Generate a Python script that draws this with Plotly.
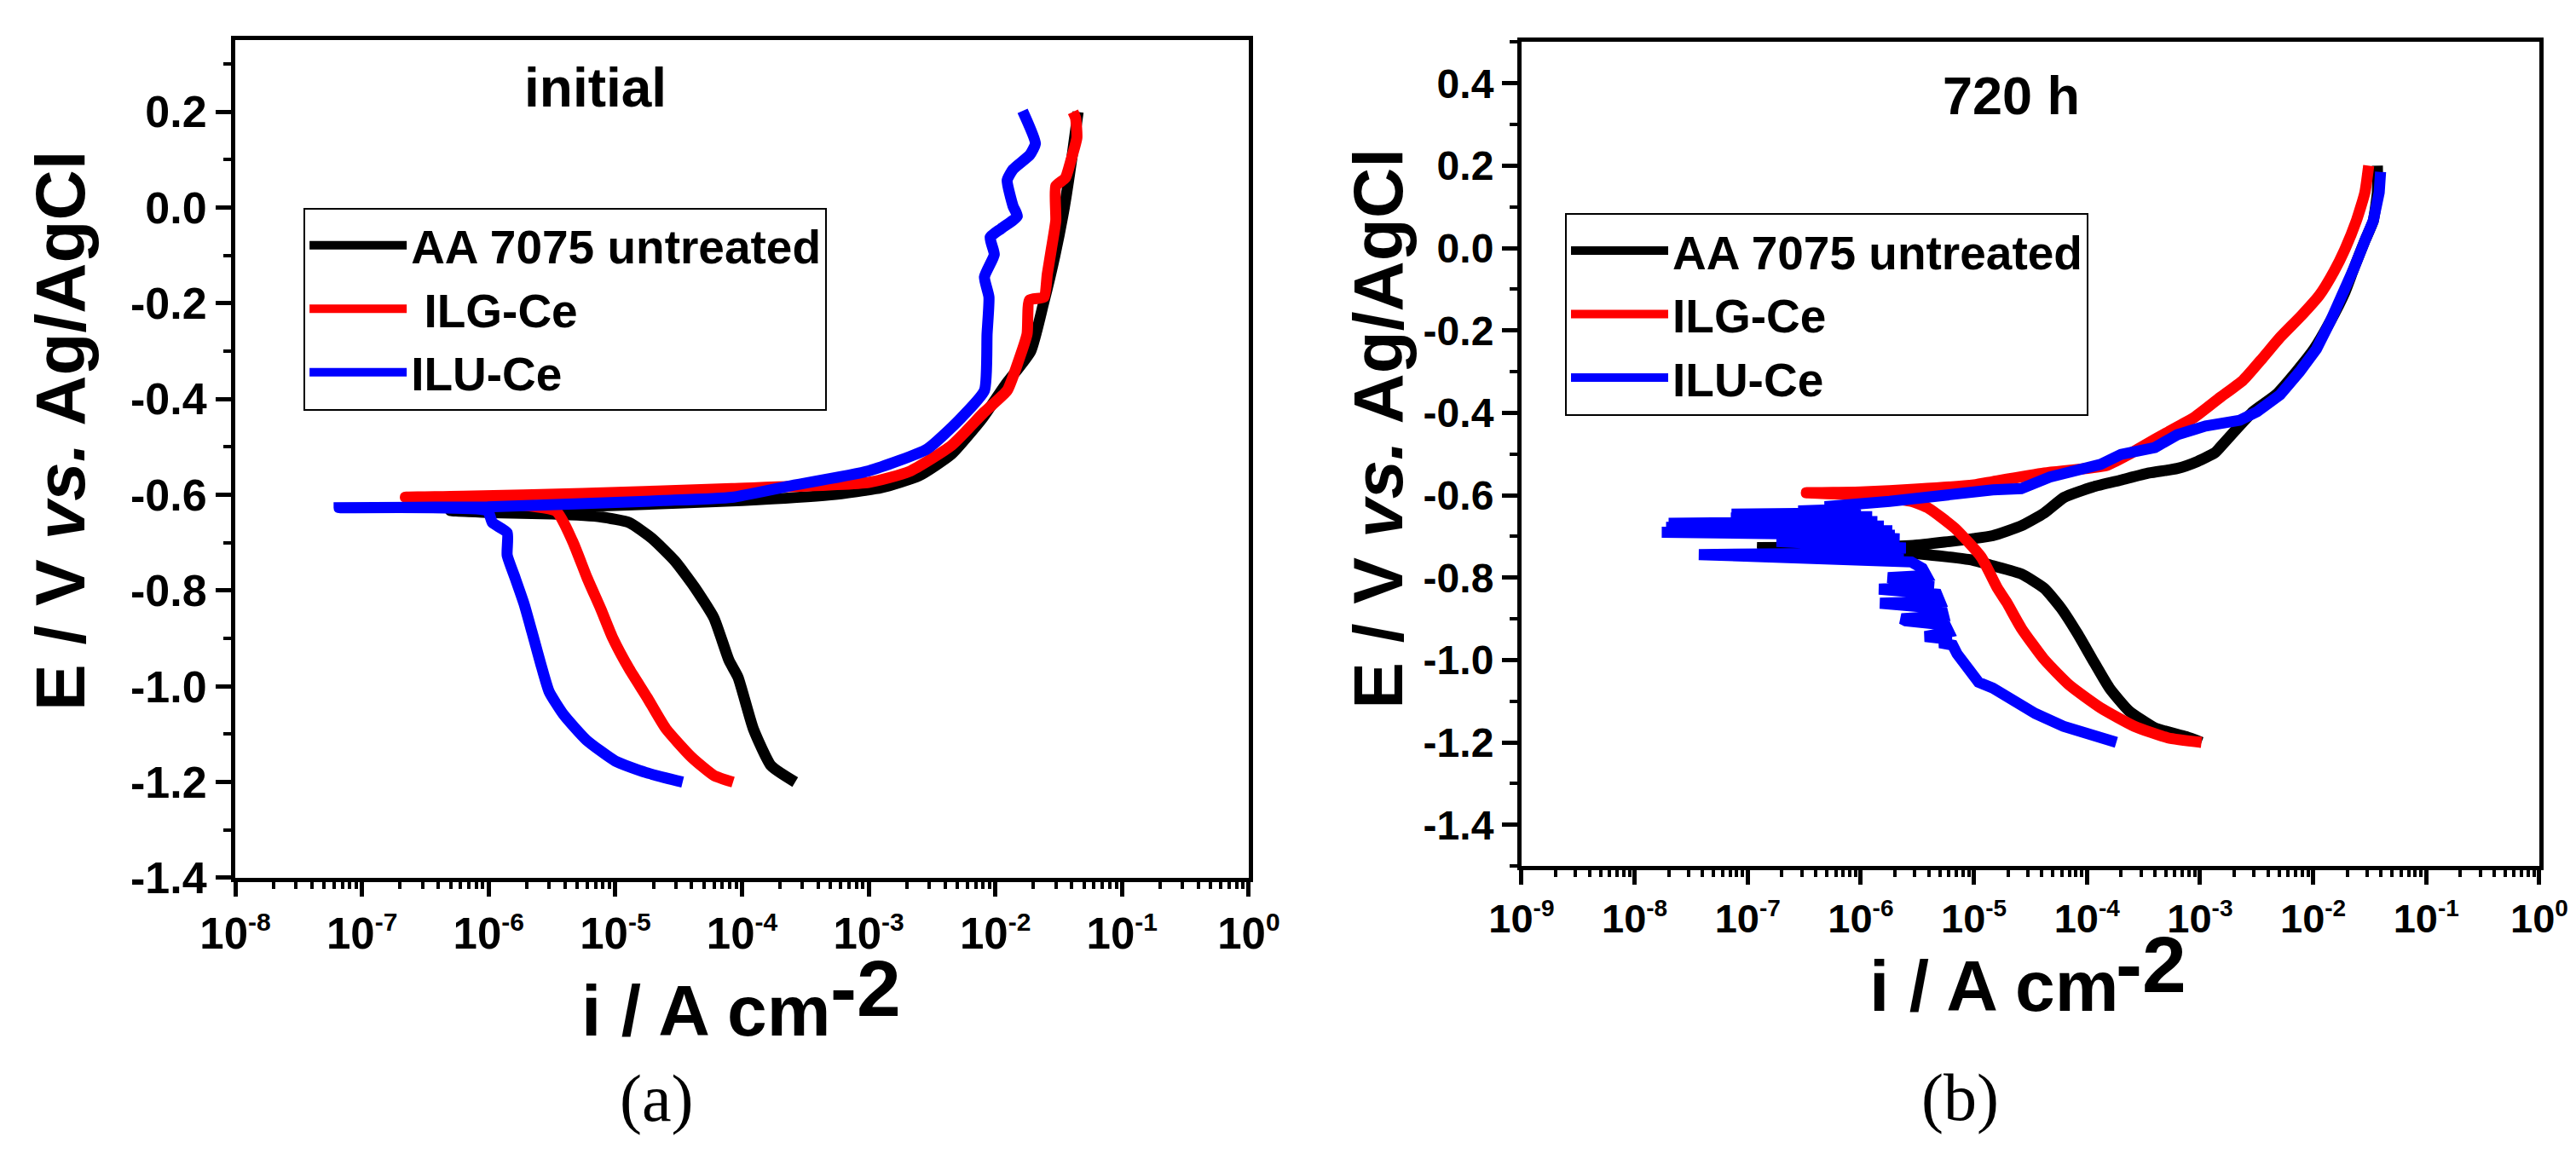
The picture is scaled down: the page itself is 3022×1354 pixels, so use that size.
import plotly.graph_objects as go

# ---- (a) initial : current density (A cm-2) and potential (V vs Ag/AgCl)
a_black_i = [2.63e-4, 1.70e-4, 1.23e-4, 9.3e-5, 7.9e-5, 6.0e-5, 4.2e-5, 2.95e-5, 1.95e-5,
             1.29e-5, 7.7e-6, 3.16e-6, 1.07e-6, 5.0e-7,
             1.0e-6, 1.0e-5, 1.0e-4, 5.0e-4, 1.26e-3, 2.5e-3, 4.5e-3, 7.9e-3, 1.2e-2,
             1.9e-2, 2.4e-2, 2.95e-2, 3.5e-2, 4.0e-2, 4.5e-2]
a_black_E = [-1.200, -1.166, -1.089, -0.981, -0.946, -0.857, -0.792, -0.738, -0.691,
             -0.658, -0.646, -0.640, -0.637, -0.633,
             -0.630, -0.622, -0.612, -0.600, -0.585, -0.560, -0.515, -0.440, -0.370,
             -0.300, -0.200, -0.100, 0.000, 0.100, 0.200]

a_red_i = [8.5e-5, 6.0e-5, 4.0e-5, 2.5e-5, 1.78e-5, 1.29e-5, 9.5e-6, 7.7e-6, 6.0e-6, 4.6e-6,
           3.4e-6, 1.0e-6, 2.2e-7,
           6.3e-7, 5.5e-6, 8.3e-5, 1.0e-3, 2.1e-3, 4.5e-3, 8.1e-3, 1.24e-2, 1.51e-2, 1.78e-2,
           1.86e-2, 2.42e-2, 2.57e-2, 2.77e-2, 3.0e-2, 3.0e-2, 3.57e-2, 4.0e-2, 4.4e-2,
           4.3e-2, 4.1e-2]
a_red_E = [-1.200, -1.186, -1.148, -1.088, -1.023, -0.964, -0.898, -0.839, -0.774, -0.697,
           -0.634, -0.615, -0.605,
           -0.603, -0.597, -0.587, -0.574, -0.551, -0.497, -0.428, -0.382, -0.323, -0.264,
           -0.193, -0.187, -0.139, -0.086, -0.027, 0.045, 0.062, 0.104, 0.146,
           0.187, 0.200]

a_blue_i = [3.4e-5, 1.74e-5, 1.0e-5, 5.9e-6, 3.9e-6, 3.0e-6, 2.57e-6, 2.2e-6, 1.9e-6, 1.62e-6,
            1.4e-6, 1.4e-6, 1.07e-6, 9.8e-7, 6.6e-8,
            9.8e-7, 2.4e-5, 8.3e-5, 2.3e-4, 1.0e-3, 2.9e-3, 5.2e-3, 8.2e-3, 8.6e-3, 8.9e-3,
            8.2e-3, 9.8e-3, 9.1e-3, 1.11e-2, 1.49e-2, 1.38e-2, 1.24e-2, 1.38e-2, 1.87e-2,
            2.07e-2, 1.64e-2]
a_blue_E = [-1.200, -1.180, -1.156, -1.112, -1.059, -1.011, -0.952, -0.887, -0.827, -0.774,
            -0.726, -0.679, -0.658, -0.634, -0.627,
            -0.625, -0.612, -0.605, -0.582, -0.550, -0.504, -0.443, -0.382, -0.264, -0.187,
            -0.145, -0.098, -0.062, -0.044, -0.018, 0.003, 0.057, 0.080, 0.110,
            0.134, 0.202]

# ---- (b) 720 h
b_black_i = [1.03e-3, 7.5e-4, 4.0e-4, 2.34e-4, 1.58e-4, 1.12e-4, 8.3e-5, 5.9e-5, 4.2e-5,
             2.63e-5, 1.47e-5, 9.5e-6, 3.5e-6, 1.0e-6, 1.35e-7,
             1.0e-6, 2.9e-6, 1.0e-5, 1.47e-5, 2.63e-5, 4.2e-5, 6.3e-5, 1.12e-4, 2.0e-4,
             3.55e-4, 6.3e-4, 9.5e-4, 1.35e-3, 1.5e-3, 2.0e-3, 2.95e-3, 4.7e-3, 7.1e-3,
             1.02e-2, 1.43e-2, 1.91e-2, 2.28e-2, 2.87e-2, 3.4e-2, 3.7e-2, 3.7e-2]
b_black_E = [-1.200, -1.186, -1.165, -1.123, -1.068, -0.999, -0.937, -0.874, -0.826,
             -0.791, -0.771, -0.757, -0.743, -0.735, -0.727,
             -0.726, -0.722, -0.705, -0.698, -0.674, -0.643, -0.605, -0.580, -0.563,
             -0.546, -0.535, -0.518, -0.497, -0.484, -0.446, -0.397, -0.356, -0.300,
             -0.245, -0.176, -0.107, -0.051, 0.018, 0.066, 0.135, 0.200]

b_red_i = [1.03e-3, 5.2e-4, 2.63e-4, 1.32e-4, 7.0e-5, 4.2e-5, 2.63e-5, 1.95e-5, 1.62e-5,
           1.16e-5, 6.8e-6, 4.0e-6, 2.8e-6, 1.0e-6, 3.3e-7,
           1.0e-6, 3.2e-6, 1.0e-5, 1.47e-5, 4.2e-5, 1.48e-4, 2.34e-4, 3.16e-4, 5.0e-4,
           8.9e-4, 1.5e-3, 2.4e-3, 3.6e-3, 5.1e-3, 8.0e-3, 1.14e-2, 1.52e-2, 1.91e-2,
           2.41e-2, 2.87e-2, 3.1e-2]
b_red_E = [-1.200, -1.189, -1.161, -1.116, -1.061, -0.999, -0.923, -0.860, -0.826,
           -0.750, -0.680, -0.632, -0.615, -0.600, -0.594,
           -0.592, -0.585, -0.575, -0.567, -0.546, -0.528, -0.501, -0.480, -0.449,
           -0.411, -0.363, -0.321, -0.266, -0.217, -0.162, -0.114, -0.058, -0.003,
           0.066, 0.135, 0.200]

# ILU-Ce at 720 h is noisy around Ecorr: the spikes are kept point by point
b_blue_i = [1.82e-4, 1.0e-4, 6.2e-5, 3.5e-5, 2.1e-5, 1.47e-5, 1.1e-5, 8.3e-6, 7.1e-6, 6.5e-6,
            5.0e-6, 6.3e-6, 3.7e-6, 6.0e-6, 5.6e-6, 2.5e-6, 2.3e-6, 5.4e-6, 5.2e-6, 1.48e-6,
            5.0e-6, 4.7e-6, 1.45e-6, 4.4e-6, 1.74e-6, 3.8e-6, 3.5e-6, 2.8e-6,
            3.7e-8, 2.4e-6, 8.7e-7, 2.5e-6, 1.8e-7, 2.2e-6, 7.9e-7, 2.0e-6, 1.74e-8, 1.9e-6,
            1.9e-8, 1.6e-6, 2.0e-8, 1.4e-6, 7.1e-8, 1.26e-6, 7.2e-8, 1.0e-6, 2.8e-7, 1.0e-6,
            4.8e-7, 1.8e-6,
            6.3e-6, 1.47e-5, 2.63e-5, 4.7e-5, 1.32e-4, 2.0e-4, 4.0e-4, 6.3e-4, 1.12e-3,
            2.25e-3, 3.2e-3, 5.1e-3, 7.6e-3, 1.07e-2, 1.43e-2, 1.91e-2, 2.28e-2, 2.87e-2,
            3.4e-2, 3.84e-2, 3.95e-2]
b_blue_E = [-1.200, -1.182, -1.161, -1.130, -1.089, -1.068, -1.054, -1.012, -0.985, -0.964,
            -0.958, -0.950, -0.943, -0.932, -0.915, -0.905, -0.900, -0.893, -0.875, -0.862,
            -0.858, -0.840, -0.828, -0.822, -0.800, -0.795, -0.777, -0.762,
            -0.744, -0.740, -0.733, -0.728, -0.712, -0.706, -0.700, -0.697, -0.690, -0.686,
            -0.678, -0.675, -0.668, -0.664, -0.655, -0.652, -0.646, -0.643, -0.638, -0.633,
            -0.628, -0.615,
            -0.595, -0.587, -0.584, -0.556, -0.525, -0.501, -0.484, -0.453, -0.432,
            -0.418, -0.397, -0.356, -0.300, -0.245, -0.176, -0.107, -0.051, 0.018,
            0.066, 0.135, 0.185]

series_names_a = ["AA 7075 untreated", "\u00a0ILG-Ce", "ILU-Ce"]
series_names_b = ["AA 7075 untreated", "ILG-Ce", "ILU-Ce"]
series_colors = ["#000000", "#ff0000", "#0000ff"]

a_xtick_vals = [1e-8, 1e-7, 1e-6, 1e-5, 1e-4, 1e-3, 1e-2, 1e-1, 1e0]
a_xtick_exp = ["-8", "-7", "-6", "-5", "-4", "-3", "-2", "-1", "0"]
b_xtick_vals = [1e-9] + a_xtick_vals
b_xtick_exp = ["-9"] + a_xtick_exp
a_ytick_vals = [-1.4, -1.2, -1.0, -0.8, -0.6, -0.4, -0.2, 0.0, 0.2]
a_ytick_text = ["-1.4", "-1.2", "-1.0", "-0.8", "-0.6", "-0.4", "-0.2", "0.0", "0.2"]
b_ytick_vals = a_ytick_vals + [0.4]
b_ytick_text = a_ytick_text + ["0.4"]

FONT = "Liberation Sans, Arial, sans-serif"
SERIF = "Liberation Serif, Times New Roman, serif"
LW = 13


def power_labels(exps, sup_px):
    return ["10<sup><span style='font-size:%dpx'>%s</span></sup>" % (sup_px, e) for e in exps]


def minor_log_ticks(lo, hi):
    return [k * 10.0 ** n for n in range(lo, hi) for k in range(2, 10)]


fig = go.Figure()

panel_a = [(a_black_i, a_black_E), (a_red_i, a_red_E), (a_blue_i, a_blue_E)]
panel_b = [(b_black_i, b_black_E), (b_red_i, b_red_E), (b_blue_i, b_blue_E)]

for (i_vals, e_vals), name, color in zip(panel_a, series_names_a, series_colors):
    fig.add_trace(go.Scatter(x=i_vals, y=e_vals, mode="lines", name=name,
                             line=dict(color=color, width=LW, shape="spline", smoothing=0.5),
                             xaxis="x", yaxis="y", legend="legend"))

for k, ((i_vals, e_vals), name, color) in enumerate(zip(panel_b, series_names_b, series_colors)):
    shape = dict(shape="linear") if k == 2 else dict(shape="spline", smoothing=0.5)
    fig.add_trace(go.Scatter(x=i_vals, y=e_vals, mode="lines", name=name,
                             line=dict(color=color, width=LW, **shape),
                             xaxis="x2", yaxis="y2", legend="legend2"))

common = dict(showline=True, linewidth=5, linecolor="black", mirror=True,
              ticks="outside", tickwidth=5, tickcolor="black",
              showgrid=False, zeroline=False, automargin=False)
minor_style = dict(ticks="outside", tickwidth=4, tickcolor="black")


def tfont(size):
    return dict(family=FONT, size=size, color="black", weight="bold")


fig.update_layout(
    width=3022, height=1354,
    template="none",
    paper_bgcolor="white", plot_bgcolor="white",
    margin=dict(l=0, r=0, t=0, b=0),
    showlegend=True,
    xaxis=dict(type="log", range=[-8, 0], domain=[0.0887, 0.4821], anchor="y",
               tickmode="array", tickvals=a_xtick_vals, ticktext=power_labels(a_xtick_exp, 30),
               ticklen=17, tickfont=tfont(51),
               minor=dict(tickmode="array", tickvals=minor_log_ticks(-8, 0), ticklen=8, **minor_style),
               **common),
    yaxis=dict(range=[-1.4, 0.35], domain=[0.2452, 0.9712], anchor="x",
               tickmode="array", tickvals=a_ytick_vals, ticktext=a_ytick_text,
               ticklen=18, tickfont=tfont(52),
               minor=dict(tickmode="linear", tick0=0, dtick=0.1, ticklen=9, **minor_style),
               **common),
    xaxis2=dict(type="log", range=[-9, 0], domain=[0.5880, 0.9831], anchor="y2",
                tickmode="array", tickvals=b_xtick_vals, ticktext=power_labels(b_xtick_exp, 28),
                ticklen=17, tickfont=tfont(47),
                minor=dict(tickmode="array", tickvals=minor_log_ticks(-9, 0), ticklen=8, **minor_style),
                **common),
    yaxis2=dict(range=[-1.5, 0.5], domain=[0.2555, 0.9694], anchor="x2",
                tickmode="array", tickvals=b_ytick_vals, ticktext=b_ytick_text,
                ticklen=18, tickfont=tfont(48),
                minor=dict(tickmode="linear", tick0=0, dtick=0.1, ticklen=9, **minor_style),
                **common),
    legend=dict(x=0.1152, y=0.826, xanchor="left", yanchor="top",
                bordercolor="black", borderwidth=2, bgcolor="white",
                itemwidth=114, tracegroupgap=0, font=tfont(55)),
    legend2=dict(x=0.6049, y=0.8214, xanchor="left", yanchor="top",
                 bordercolor="black", borderwidth=2, bgcolor="white",
                 itemwidth=114, tracegroupgap=0, font=tfont(55)),
)

ytitle = "E / V <i>vs.</i> Ag/AgCl"
xtitle_main = "i / A cm"
xtitle_exp = "-2"

annotations = [
    dict(text="initial", x=0.2285, y=0.930, font=tfont(64)),
    dict(text="720 h", x=0.7782, y=0.9233, font=tfont(63)),
    dict(text=ytitle, x=0.0209, y=0.633, textangle=-90, font=tfont(82)),
    dict(text=ytitle, x=0.532, y=0.6344, textangle=-90, font=tfont(82)),
    dict(text=xtitle_main, x=0.2716, y=0.1303, font=tfont(84)),
    dict(text=xtitle_exp, x=0.3334, y=0.1491, height=72, font=tfont(93)),
    dict(text=xtitle_main, x=0.7716, y=0.1513, font=tfont(84)),
    dict(text=xtitle_exp, x=0.8325, y=0.1695, height=72, font=tfont(93)),
    dict(text="(a)", x=0.2522, y=0.0545, font=dict(family=SERIF, size=78, color="black")),
    dict(text="(b)", x=0.7583, y=0.0552, font=dict(family=SERIF, size=78, color="black")),
]
for ann in annotations:
    fig.add_annotation(xref="paper", yref="paper", showarrow=False,
                       xanchor="center", yanchor="middle", **ann)

fig.write_html("out.html")
